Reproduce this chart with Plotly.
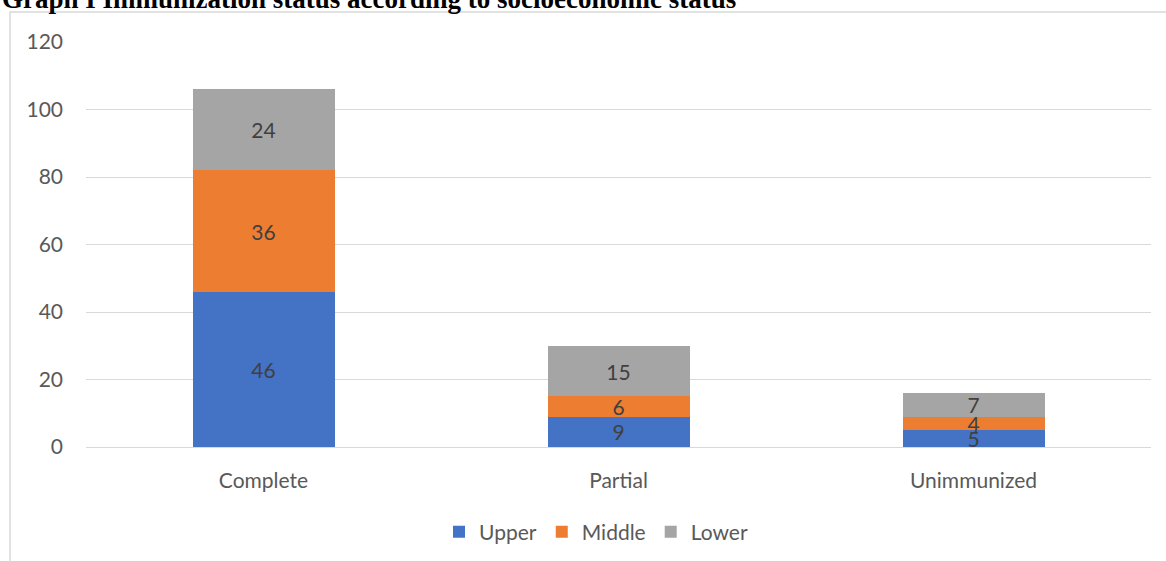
import plotly.graph_objects as go

categories = ["Complete", "Partial", "Unimmunized"]
upper = [46, 9, 5]
middle = [36, 6, 4]
lower = [24, 15, 7]
series_names = ["Upper", "Middle", "Lower"]
colors = ["#4472C4", "#ED7D31", "#A5A5A5"]
y_ticks = [0, 20, 40, 60, 80, 100, 120]

W, H = 1166, 561
L, R, T, B = 86, 15, 42, 114
pw = W - L - R
ph = H - T - B
FS = 21

fig = go.Figure()
for name, vals, col in zip(series_names, [upper, middle, lower], colors):
    fig.add_trace(go.Bar(
        x=categories, y=vals, name=name, marker=dict(color=col, line=dict(width=0)),
        text=vals, textposition="inside", insidetextanchor="middle",
        textangle=0, constraintext="none",
        textfont=dict(family="Lato", size=FS, color="#404040"),
        width=0.4,
    ))

fig.update_layout(
    barmode="stack",
    width=W, height=H,
    margin=dict(l=L, r=R, t=T, b=B, autoexpand=False),
    plot_bgcolor="white", paper_bgcolor="white",
    showlegend=True,
    legend=dict(orientation="h", xref="container", x=596 / W, xanchor="center",
                yref="container", y=1 - 532 / H, yanchor="middle",
                font=dict(family="Lato", size=FS, color="#595959"),
                itemwidth=30, traceorder="normal"),
    font=dict(family="Lato", color="#595959"),
)
fig.update_xaxes(showgrid=False, showline=True, linecolor="#d9d9d9", linewidth=1,
                 ticks="", tickfont=dict(family="Lato", size=FS, color="#595959"),
                 ticklabelstandoff=15, automargin=False)
fig.update_yaxes(range=[0, 120], tickvals=y_ticks, showgrid=True, gridcolor="#d9d9d9",
                 gridwidth=1, zeroline=False, showline=False, ticks="",
                 tickfont=dict(family="Lato", size=FS, color="#595959"),
                 ticklabelstandoff=22, automargin=False)

# Frame of the chart area
fig.add_shape(type="rect", xref="paper", yref="paper",
              x0=(10 - L) / pw, x1=(W + 5 - L) / pw,
              y0=-(B + 10) / ph, y1=(T + ph - 12) / ph,
              line=dict(color="#d9d9d9", width=1.5), layer="below")

fig.add_annotation(text="<b>Graph I Immunization status according to socioeconomic status</b>",
                   xref="paper", yref="paper", x=-L / pw, xanchor="left",
                   y=(T + ph + 1) / ph, yanchor="middle", showarrow=False,
                   font=dict(family="Liberation Serif", size=27, color="black"))

fig.write_html("out.html")
